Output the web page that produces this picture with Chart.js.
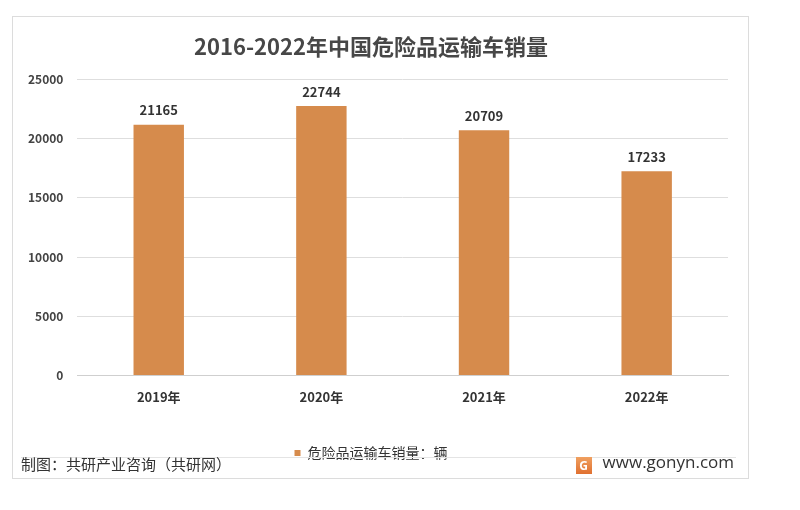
<!DOCTYPE html>
<html>
<head>
<meta charset="utf-8">
<script src="https://cdn.jsdelivr.net/npm/chart.js@4"></script>
<style>
  body { margin: 0; background: #fff; font-family: "Noto Sans CJK SC", sans-serif; }
  #frame { position: absolute; left: 12px; top: 16px; width: 735px; height: 461px; border: 1px solid #dcdcdc; }
  #wrap { position: absolute; left: 0; top: 0; width: 735px; height: 453px; }
  #sep { position: absolute; left: 8px; right: 12px; top: 440px; border-top: 1px solid #e4e4e4; }
  #src { position: absolute; left: 8px; top: 436px; font-size: 15px; color: #333; }
  #site { position: absolute; right: 14px; top: 433px; font-size: 17px; color: #333; font-family: "Open Sans", sans-serif; }
  #logo { display: inline-block; width: 16px; height: 17px; margin-right: 11px; vertical-align: -2px;
          background: linear-gradient(#f0a060, #e07030); color: #fff; font-size: 12px; font-weight: bold;
          line-height: 17px; text-align: center; }
</style>
</head>
<body>
<div id="frame">
  <div id="wrap"><canvas id="c"></canvas></div>
  <div id="sep"></div>
  <div id="src">制图：共研产业咨询（共研网）</div>
  <div id="site"><span id="logo">G</span>www.gonyn.com</div>
</div>
<script>
  const years = ["2019年", "2020年", "2021年", "2022年"];
  const sales = [21165, 22744, 20709, 17233];
  const seriesName = "危险品运输车销量：辆";
  const yTicks = [0, 5000, 10000, 15000, 20000, 25000];

  const valueLabels = {
    id: "valueLabels",
    afterDatasetsDraw(chart) {
      const ctx = chart.ctx;
      const meta = chart.getDatasetMeta(0);
      ctx.save();
      ctx.font = "bold 13px 'Noto Sans CJK SC'";
      ctx.fillStyle = "#333";
      ctx.textAlign = "center";
      ctx.textBaseline = "bottom";
      meta.data.forEach((bar, i) => {
        ctx.fillText(sales[i], bar.x, bar.y - 8);
      });
      ctx.restore();
    },
  };

  new Chart(document.getElementById("c").getContext("2d"), {
    type: "bar",
    data: {
      labels: years,
      datasets: [
        {
          label: seriesName,
          data: sales,
          backgroundColor: "#D68B4C",
          categoryPercentage: 0.62,
          barPercentage: 0.5,
        },
      ],
    },
    options: {
      responsive: true,
      maintainAspectRatio: false,
      animation: false,
      layout: { padding: { left: 1, right: 20, top: 16, bottom: 0 } },
      plugins: {
        title: {
          display: true,
          text: "2016-2022年中国危险品运输车销量",
          color: "#474747",
          font: { size: 22, weight: "bold", family: "'Noto Sans CJK SC'" },
          padding: { top: 0, bottom: 20 },
        },
        legend: {
          position: "bottom",
          labels: {
            boxWidth: 6,
            boxHeight: 6,
            color: "#333",
            font: { size: 14, family: "'Noto Sans CJK SC'" },
            padding: 35,
          },
        },
        tooltip: { enabled: false },
      },
      scales: {
        x: {
          grid: { display: false },
          border: { color: "#cfcfcf" },
          ticks: {
            color: "#333",
            padding: 6,
            font: { size: 13, weight: "bold", family: "'Noto Sans CJK SC'" },
          },
        },
        y: {
          min: 0,
          max: 25000,
          afterBuildTicks: (axis) => {
            axis.ticks = yTicks.map((v) => ({ value: v }));
          },
          grid: { color: "#dedede", drawTicks: false },
          border: { display: false },
          ticks: {
            color: "#444",
            padding: 14,
            callback: (v) => String(v),
            font: { size: 12, weight: "bold", family: "'Noto Sans CJK SC'" },
          },
        },
      },
    },
    plugins: [valueLabels],
  });
</script>
</body>
</html>
